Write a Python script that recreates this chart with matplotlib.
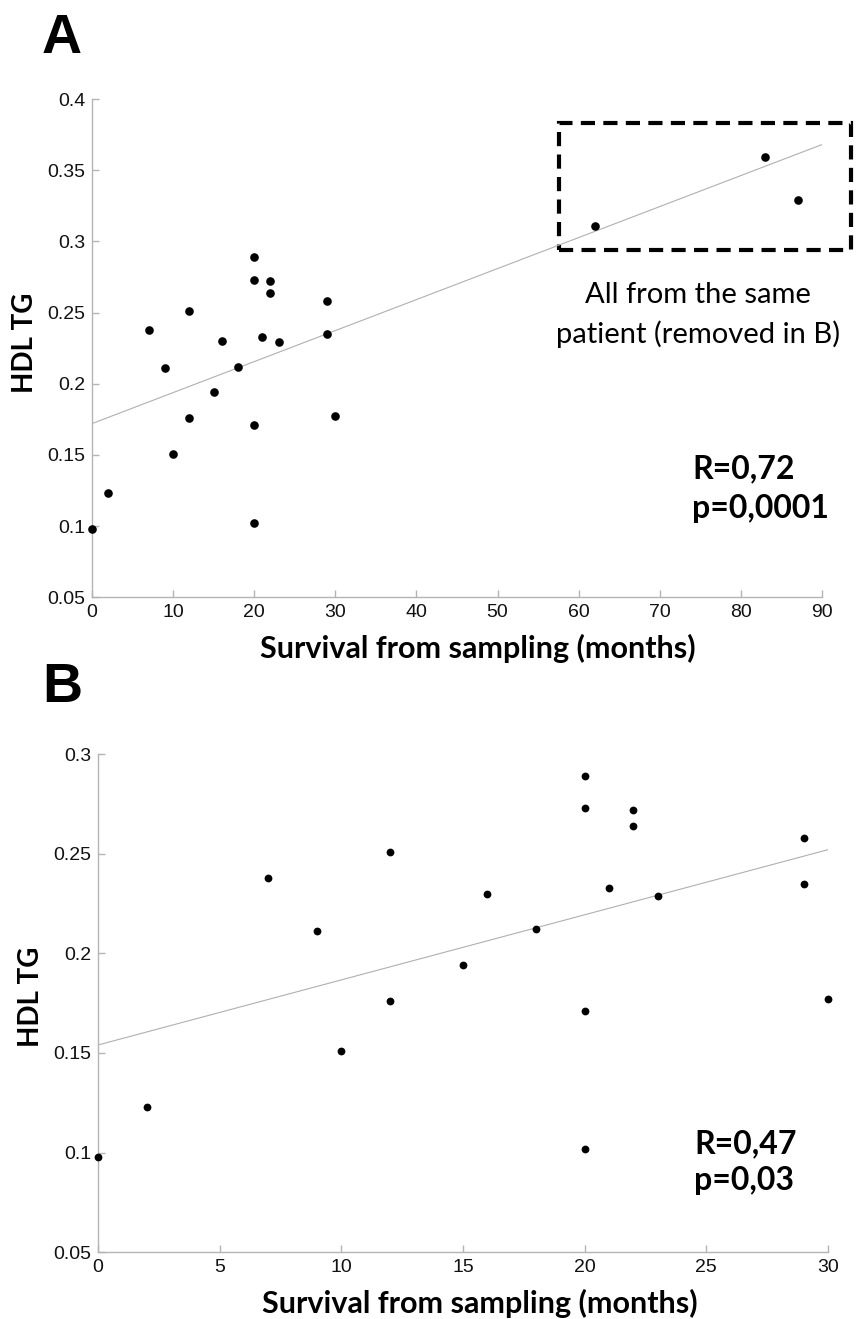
import numpy as np
import matplotlib
matplotlib.use('Agg')
import matplotlib.pyplot as plt
from matplotlib.patches import Rectangle

# survival from sampling (months) and HDL TG values
months = [0, 2, 7, 9, 10, 12, 12, 15, 16, 18, 20, 20, 20, 20, 21, 22, 22, 23, 29, 29, 30]
hdl_tg = [0.098, 0.123, 0.238, 0.211, 0.151, 0.251, 0.176, 0.194, 0.230, 0.212,
          0.289, 0.273, 0.171, 0.102, 0.233, 0.272, 0.264, 0.229, 0.258, 0.235, 0.177]
# same patient, only in panel A
months_extra = [62, 83, 87]
hdl_tg_extra = [0.311, 0.359, 0.329]

# regression lines as drawn (end points)
fit_a_x = [0, 90]
fit_a_y = [0.172, 0.368]
fit_b_x = [0, 30]
fit_b_y = [0.154, 0.252]

xticks_a = list(range(0, 91, 10))
yticks_a = [0.05, 0.1, 0.15, 0.2, 0.25, 0.3, 0.35, 0.4]
xticks_b = list(range(0, 31, 5))
yticks_b = [0.05, 0.1, 0.15, 0.2, 0.25, 0.3]

W, H = 868, 1319
fig = plt.figure(figsize=(W / 100, H / 100), dpi=100)

AXC = '#b4b4b4'
BOLD = dict(family='Lato', weight='bold')


def px_box(l, r, t, b):
    return [l / W, 1 - b / H, (r - l) / W, (b - t) / H]


def style(ax, xt, yt, xlim, ylim):
    ax.set_xlim(*xlim)
    ax.set_ylim(*ylim)
    ax.set_xticks(xt)
    ax.set_yticks(yt)
    ax.set_xticklabels([str(v) for v in xt])
    ax.set_yticklabels(['%g' % v for v in yt])
    for s in ['top', 'right']:
        ax.spines[s].set_visible(False)
    for s in ['left', 'bottom']:
        ax.spines[s].set_color(AXC)
        ax.spines[s].set_linewidth(1.0)
    ax.tick_params(direction='in', length=5, width=1, color=AXC, pad=4.5,
                   labelsize=14, labelcolor='#111111')
    for lab in ax.get_xticklabels() + ax.get_yticklabels():
        lab.set_family('Liberation Sans')


# ---- panel A
axA = fig.add_axes(px_box(92, 822, 99, 597.3))
style(axA, xticks_a, yticks_a, (0, 90), (0.05, 0.4))
axA.plot(fit_a_x, fit_a_y, color='#b0b0b0', lw=0.8, zorder=2)
axA.plot(months + months_extra, hdl_tg + hdl_tg_extra, 'o', color='black',
         ms=6.2, mew=0, clip_on=False, zorder=3)
axA.add_patch(Rectangle((57.6, 0.2939), 93.6 - 57.6, 0.3831 - 0.2939, fill=False,
                        ec='black', lw=3, ls=(0, (3.4, 2.0)), clip_on=False))
axA.text(74.7, 0.2567, 'All from the same', ha='center', va='baseline',
         family='Lato', fontsize=21)
axA.text(74.7, 0.2286, 'patient (removed in B)', ha='center', va='baseline',
         family='Lato', fontsize=21)
axA.text(74.0, 0.1338, 'R=0,72', ha='left', va='baseline', fontsize=23, **BOLD)
axA.text(74.0, 0.1057, 'p=0,0001', ha='left', va='baseline', fontsize=23, **BOLD)
axA.set_xlabel('Survival from sampling (months)', fontsize=22, **BOLD)
axA.xaxis.set_label_coords(0.529, -0.1218)
axA.xaxis.label.set_va('baseline')
axA.set_ylabel('HDL TG', fontsize=20, **BOLD)
axA.yaxis.set_label_coords(-0.0918, 0.510)
axA.yaxis.label.set_va('center')

# ---- panel B
axB = fig.add_axes(px_box(98, 828, 754, 1252.3))
style(axB, xticks_b, yticks_b, (0, 30), (0.05, 0.3))
axB.plot(fit_b_x, fit_b_y, color='#b0b0b0', lw=0.8, zorder=2)
axB.plot(months, hdl_tg, 'o', color='black', ms=5.6, mew=0, clip_on=False, zorder=3)
axB.text(24.5, 0.0997, 'R=0,47', ha='left', va='baseline', fontsize=23, **BOLD)
axB.text(24.5, 0.0811, 'p=0,03', ha='left', va='baseline', fontsize=23, **BOLD)
axB.set_xlabel('Survival from sampling (months)', fontsize=22, **BOLD)
axB.xaxis.set_label_coords(0.5226, -0.1219)
axB.xaxis.label.set_va('baseline')
axB.set_ylabel('HDL TG', fontsize=20, **BOLD)
axB.yaxis.set_label_coords(-0.0918, 0.5127)
axB.yaxis.label.set_va('center')

# panel letters
fig.text(42 / W, 1 - 53 / H, 'A', ha='left', va='baseline', fontsize=40,
         family='Liberation Sans', weight='bold')
fig.text(42 / W, 1 - 702 / H, 'B', ha='left', va='baseline', fontsize=40,
         family='Liberation Sans', weight='bold')

fig.savefig('out.png', dpi=100)
